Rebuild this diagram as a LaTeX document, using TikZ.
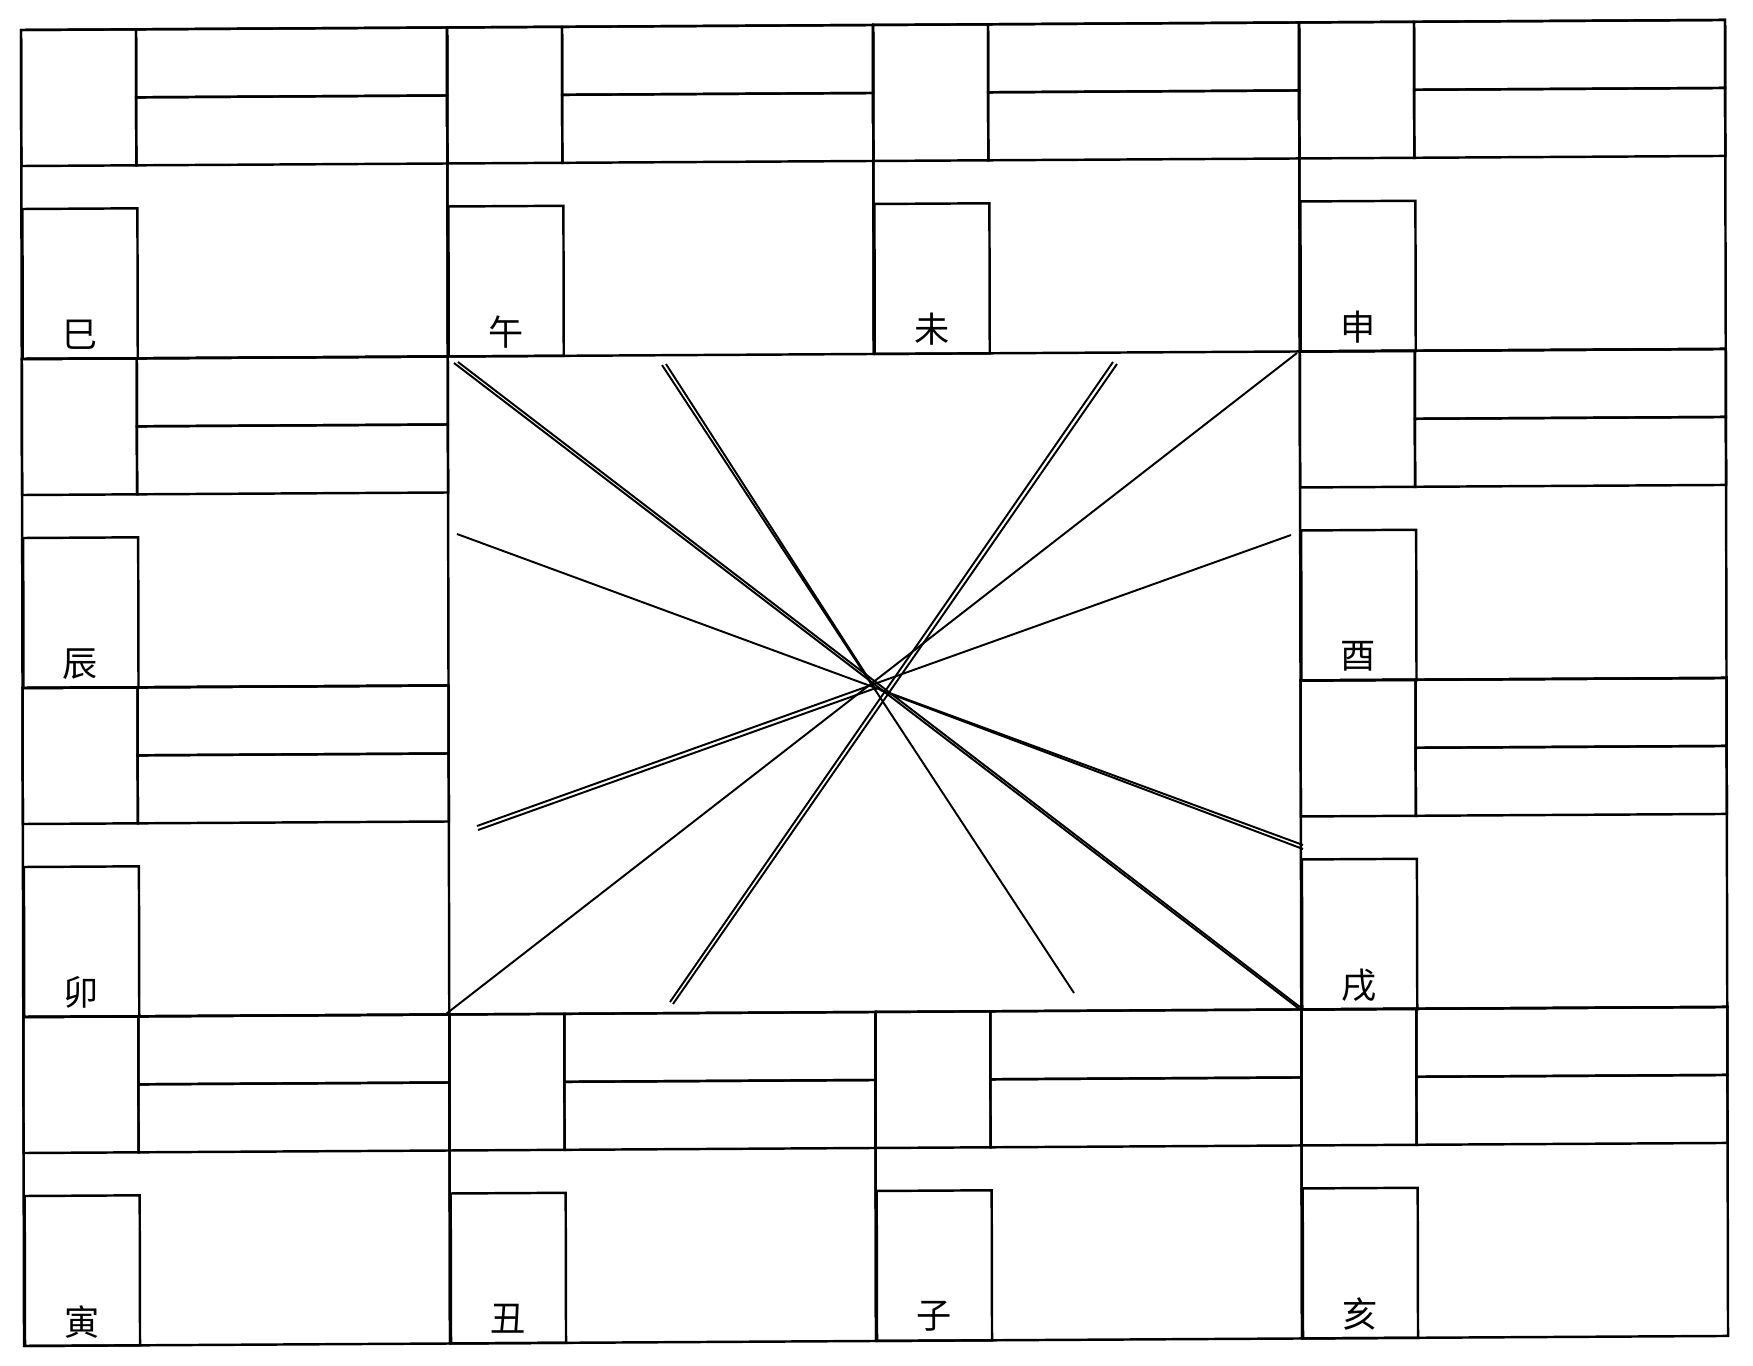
\documentclass[tikz,border=0pt]{standalone}
\usepackage{fontspec}
\newfontfamily\cjk{Noto Sans CJK SC}
\tikzset{
  box/.style={draw=black, line width=0.7pt},
  ray/.style={draw=black, line width=0.55pt},
  lbl/.style={inner sep=0pt, font=\cjk\fontsize{10}{12}\selectfont}
}
\newcommand\gcell[4]{%
  \begin{scope}[shift={({#1*426},{#2*329})}]
    \draw[box] (0,0) rectangle (426,329);
    \draw[box] (0,0) rectangle (115,136);
    \draw[box] (115,0) rectangle (426,68);
    \draw[box] (115,68) rectangle (426,136);
    \draw[box] (1,179) rectangle (116,329);
    \node[lbl] (#4) at (58,305) {#3};
  \end{scope}}
\begin{document}
\begin{tikzpicture}[x=0.01cm, y=-0.01cm]
  \fill[white] (0,0) rectangle (1753,1366);
  \useasboundingbox (0,0) rectangle (1753,1366);
  \begin{scope}[shift={(21,30)}, cm={1,0.0059,-0.0023,1,(0,0)}]
    \gcell{0}{0}{巳}{si}
    \gcell{1}{0}{午}{wu}
    \gcell{2}{0}{未}{wei}
    \gcell{3}{0}{申}{shen}
    \gcell{0}{1}{辰}{chen}
    \gcell{3}{1}{酉}{you}
    \gcell{0}{2}{卯}{mao}
    \gcell{3}{2}{戌}{xu}
    \gcell{0}{3}{寅}{yin}
    \gcell{1}{3}{丑}{chou}
    \gcell{2}{3}{子}{zi}
    \gcell{3}{3}{亥}{hai}
  \end{scope}
  % rays through the centre
  \coordinate (a1) at (454,363);  \coordinate (b1) at (1302,1011);
  \coordinate (a2) at (1297,353); \coordinate (b2) at (446,1014);
  \coordinate (a3) at (662,365);  \coordinate (b3) at (1074,993);
  \coordinate (a4) at (1113,362); \coordinate (b4) at (670,1002);
  \coordinate (a5) at (457,534);  \coordinate (b5) at (1303,845);
  \coordinate (a6) at (1291,535); \coordinate (b6) at (477,826);
  \draw[ray] (a1) -- (b1);
  \draw[ray] (458,362) -- (1300,1007);
  \draw[ray] (a2) -- (b2);
  \draw[ray] (a3) -- (b3);
  \draw[ray] (666,364) -- (876,690);
  \draw[ray] (a4) -- (b4);
  \draw[ray] (1117,364) -- (673,1004);
  \draw[ray] (a5) -- (b5);
  \draw[ray] (880,690) -- (1303,849);
  \draw[ray] (a6) -- (b6);
  \draw[ray] (876,688) -- (478,830);
\end{tikzpicture}
\end{document}
